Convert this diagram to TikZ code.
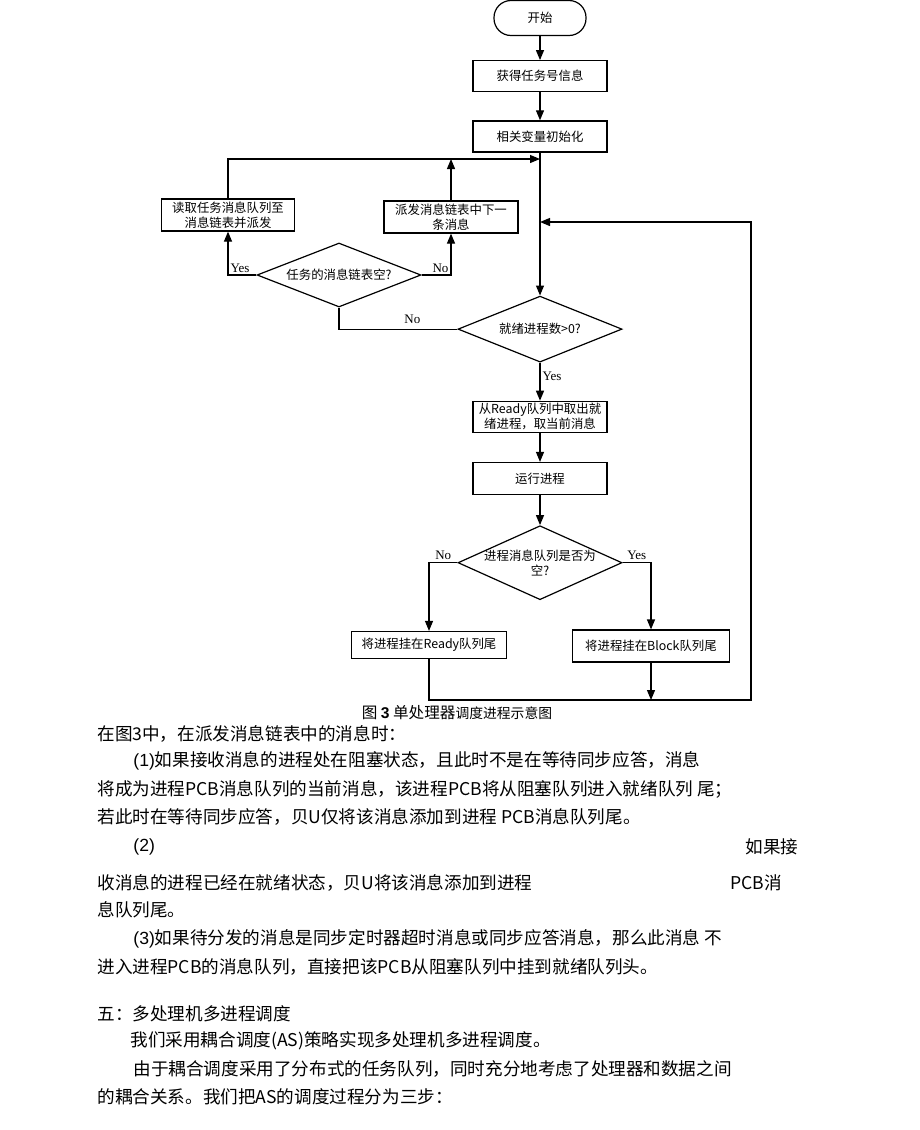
\documentclass[tikz,border=0pt]{standalone}
\usepackage{fontspec}
\setmainfont{Liberation Serif}
\newfontfamily\cjk{Noto Sans CJK SC}
\newfontfamily\arial{Liberation Sans}
\usetikzlibrary{arrows.meta,positioning,shapes.geometric}

\begin{document}
\begin{tikzpicture}[x=0.5pt, y=-0.5pt, every node/.style={inner sep=1pt},
  link/.style={line width=0.6pt},
  arrowlink/.style={link, -{Triangle[length=5pt,width=4pt]}},
  startstop/.style={rectangle, draw, line width=0.6pt, rounded corners=8.5pt, minimum width=46pt, minimum height=17.5pt, font=\cjk\fontsize{6.2}{7.6}\selectfont},
  procbox/.style={rectangle, draw, line width=0.6pt, minimum width=67pt, minimum height=15.5pt, align=center, font=\cjk\fontsize{6.2}{7.6}\selectfont},
  decision/.style={diamond, draw, line width=0.6pt, aspect=2.2, inner sep=-2pt, minimum width=82pt, minimum height=33pt, align=center, font=\cjk\fontsize{6.2}{7.6}\selectfont},
  yesno/.style={inner sep=1pt, font=\fontsize{6.5}{7.5}\selectfont},
  para/.style={anchor=west, inner sep=0pt, font=\cjk\fontsize{8.8}{10}\selectfont}]
  \useasboundingbox (0,0) rectangle (920,1130);

  \node[startstop] (start) at (540,18) {开始};
  \node[procbox, below=12pt of start] (taskno) {获得任务号信息};
  \node[procbox, below=14pt of taskno] (init) {相关变量初始化};
  \node[decision, below=71.5pt of init] (readynum) {就绪进程数>0?};
  \node[procbox, minimum height=15.5pt, below=19pt of readynum] (take) {从Ready队列中取出就\\绪进程，取当前消息};
  \node[procbox, minimum height=16pt, below=14.5pt of take] (run) {运行进程};
  \node[decision, minimum height=37pt, below=15pt of run] (msgq) {进程消息队列是否为\\空?};
  \node[decision, minimum height=32pt] (listempty) at (339,275) {任务的消息链表空?};
  \node[procbox, minimum width=66.5pt, minimum height=16pt] (fetch) at (228,215) {读取任务消息队列至\\消息链表并派发};
  \node[procbox, minimum height=16pt] (next) at (451,217) {派发消息链表中下一\\条消息};
  \node[procbox, minimum width=77.5pt, minimum height=13.5pt] (readytail) at (429,645) {将进程挂在Ready队列尾};
  \node[procbox, minimum width=78.5pt, minimum height=16pt] (blocktail) at (651,646) {将进程挂在Block队列尾};

  \coordinate (top) at (540,159);
  \coordinate (back) at (540,222);
  \coordinate (corner) at (751,700);

  \draw[arrowlink] (start) -- (taskno);
  \draw[arrowlink] (taskno) -- (init);
  \draw[arrowlink] (init) -- (readynum);
  \draw[arrowlink] (readynum) -- node[yesno, right, pos=0.35] {Yes} (take);
  \draw[arrowlink] (take) -- (run);
  \draw[arrowlink] (run) -- (msgq);
  \draw[link] (readynum.west) -| node[yesno, above=1.5pt, pos=0.19] {No} (listempty.south);
  \draw[arrowlink] (listempty.west) -| node[yesno, above right, pos=0.5] {Yes} (fetch.south);
  \draw[arrowlink] (listempty.east) -| node[yesno, above left, pos=0.5] {No} (next.south);
  \draw[arrowlink] (fetch.north) |- (top);
  \draw[arrowlink] (next.north) -- (next.north |- top);
  \draw[arrowlink] (msgq.west) -| node[yesno, above, pos=0.25] {No} (readytail.north);
  \draw[arrowlink] (msgq.east) -| node[yesno, above, pos=0.25] {Yes} (blocktail.north);
  \draw[arrowlink] (blocktail.south) -- (blocktail.south |- corner);
  \draw[arrowlink] (readytail.south) |- (corner) |- (back);

  \node[inner sep=0pt] (caption) at (457,713) {{\cjk\fontsize{7.8}{9}\selectfont 图 {\arial\bfseries 3} 单处理器}{\cjk\fontsize{6.9}{8}\selectfont 调度进程示意图}};

  \node[para] (p1) at (97,734) {在图3中，在派发消息链表中的消息时：};
  \node[para] (p2) at (133,761) {{\arial(1)}如果接收消息的进程处在阻塞状态，且此时不是在等待同步应答，消息};
  \node[para] (p3) at (97,789) {将成为进程PCB消息队列的当前消息，该进程PCB将从阻塞队列进入就绪队列 尾；};
  \node[para] (p4) at (97,817) {若此时在等待同步应答，贝U仅将该消息添加到进程 PCB消息队列尾。};
  \node[para] (p5) at (133,847) {{\arial(2)}};
  \node[para] (p5r) at (745,847) {如果接};
  \node[para] (p6) at (97,883) {收消息的进程已经在就绪状态，贝U将该消息添加到进程};
  \node[para] (p6r) at (730,883) {PCB消};
  \node[para] (p7) at (97,910) {息队列尾。};
  \node[para] (p8) at (133,939) {{\arial(3)}如果待分发的消息是同步定时器超时消息或同步应答消息，那么此消息 不};
  \node[para] (p9) at (97,967) {进入进程PCB的消息队列，直接把该PCB从阻塞队列中挂到就绪队列头。};
  \node[para] (p10) at (97,1014) {五：多处理机多进程调度};
  \node[para] (p11) at (130,1041) {我们采用耦合调度(AS)策略实现多处理机多进程调度。};
  \node[para] (p12) at (133,1069) {由于耦合调度采用了分布式的任务队列，同时充分地考虑了处理器和数据之间};
  \node[para] (p13) at (97,1097) {的耦合关系。我们把AS的调度过程分为三步：};
\end{tikzpicture}
\end{document}
